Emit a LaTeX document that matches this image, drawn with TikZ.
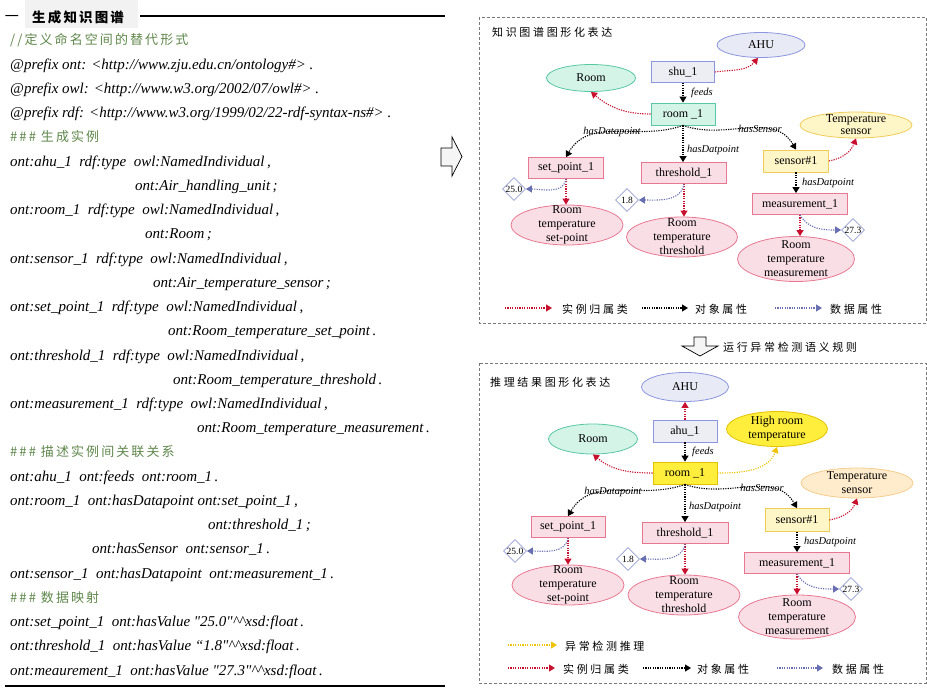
\documentclass[tikz,border=0pt]{standalone}
\usepackage{fontspec}
\setmainfont{Liberation Serif}
\newfontfamily\cjk{Noto Sans CJK SC}
\newfontfamily\cjkA[LetterSpace=16]{Noto Sans CJK SC}
\newfontfamily\cjkB[LetterSpace=24]{Noto Sans CJK SC}
\usetikzlibrary{shapes.geometric,arrows.meta}
\definecolor{cred}{RGB}{200,16,46}
\definecolor{cblue}{RGB}{105,112,178}
\definecolor{cyel}{RGB}{238,196,10}
\definecolor{cgreen}{RGB}{95,135,75}
\definecolor{pinkfill}{RGB}{250,222,230}
\definecolor{pinkdraw}{RGB}{232,120,145}
\definecolor{grnfill}{RGB}{212,244,232}
\definecolor{grndraw}{RGB}{90,200,165}
\definecolor{bluefill}{RGB}{232,234,246}
\definecolor{boxblue}{RGB}{236,238,244}
\definecolor{bluedraw}{RGB}{140,150,222}
\definecolor{ltyfill}{RGB}{255,246,200}
\definecolor{ltydraw}{RGB}{240,205,90}
\definecolor{yfill}{RGB}{255,238,60}
\definecolor{ydraw}{RGB}{225,195,0}
\definecolor{orfill}{RGB}{255,236,205}
\definecolor{ordraw}{RGB}{245,205,140}
\definecolor{dmdraw}{RGB}{150,160,210}
\definecolor{panel}{RGB}{120,120,120}
\begin{document}
\begin{tikzpicture}[x=1pt,y=-1pt,
  code/.style={anchor=base west,inner sep=0pt,font=\fontsize{15}{15}\selectfont\itshape},
  cmt/.style={anchor=base west,inner sep=0pt,text=cgreen,font=\fontsize{13}{13}\selectfont\cjkA},
  ell/.style={ellipse,draw,line width=0.8pt,inner sep=0pt},
  elltext/.style={inner sep=0pt,align=center,font=\fontsize{12}{14}\selectfont},
  box/.style={rectangle,draw,line width=0.8pt,minimum height=21pt,inner sep=0pt,font=\fontsize{12}{12}\selectfont},
  pinkbox/.style={box,fill=pinkfill,draw=pinkdraw},
  pinkell/.style={ell,fill=pinkfill,draw=pinkdraw},
  dm/.style={diamond,draw=dmdraw,fill=white,line width=0.7pt,minimum width=23pt,minimum height=23pt,inner sep=0pt,font=\fontsize{9.5}{9.5}\selectfont},
  lab/.style={inner sep=0pt,font=\fontsize{10.5}{10.5}\selectfont\itshape},
  dotline/.style={line width=1.1pt,dash pattern=on 1.2pt off 1.2pt,-{Triangle[length=6pt,width=7pt]}},
  rel/.style={dotline,draw=black},
  inst/.style={dotline,draw=cred},
  dat/.style={dotline,draw=cblue},
  infer/.style={dotline,draw=cyel},
  legtext/.style={anchor=west,inner sep=0pt,font=\fontsize{11}{11}\selectfont\cjkB},
  paneltitle/.style={anchor=west,inner sep=0pt,font=\fontsize{11}{11}\selectfont\cjkB},
  panelbox/.style={draw=panel,line width=0.6pt,dash pattern=on 3pt off 2pt}
]
\useasboundingbox (0,0) rectangle (927,690);
\fill[white] (0,0) rectangle (927,690);

% ---------- left column ----------
\fill[black!5] (25,0) rectangle (138,28);
\node[inner sep=0pt,font=\fontsize{14}{14}\selectfont\cjk] (dash) at (12,18) {一};
\node[anchor=west,inner sep=0pt,font=\fontsize{13.5}{13.5}\selectfont\cjkA\bfseries] (title) at (32,17) {生成知识图谱};
\coordinate (tl1) at (140,16);
\coordinate (tl2) at (445,16);
\draw[line width=1.2pt] (tl1) -- (tl2);

\node[cmt] (l0) at (10,45) {{\itshape //}定义命名空间的替代形式};
\node[code] (l1) at (10,69.2) {@prefix ont: <http://www.zju.edu.cn/ontology\#> .};
\node[code] (l2) at (10,93.5) {@prefix owl: <http://www.w3.org/2002/07/owl\#> .};
\node[code] (l3) at (10,117.7) {@prefix rdf: <http://www.w3.org/1999/02/22-rdf-syntax-ns\#> .};
\node[cmt] (l4) at (10,141.9) {\#\#\# 生成实例};
\node[code] (l5) at (10,166.2) {ont:ahu\_1\ \ rdf:type\ \ owl:NamedIndividual\,,};
\node[code] (l6) at (135,190.4) {ont:Air\_handling\_unit\,;};
\node[code] (l7) at (10,214.6) {ont:room\_1\ \ rdf:type\ \ owl:NamedIndividual\,,};
\node[code] (l8) at (145,238.8) {ont:Room\,;};
\node[code] (l9) at (10,263.1) {ont:sensor\_1\ \ rdf:type\ \ owl:NamedIndividual\,,};
\node[code] (l10) at (153,287.3) {ont:Air\_temperature\_sensor\,;};
\node[code] (l11) at (10,311.5) {ont:set\_point\_1\ \ rdf:type\ \ owl:NamedIndividual\,,};
\node[code] (l12) at (168,335.8) {ont:Room\_temperature\_set\_point\,.};
\node[code] (l13) at (10,360) {ont:threshold\_1\ \ rdf:type\ \ owl:NamedIndividual\,,};
\node[code] (l14) at (173,384.2) {ont:Room\_temperature\_threshold\,.};
\node[code] (l15) at (10,408.5) {ont:measurement\_1\ \ rdf:type\ \ owl:NamedIndividual\,,};
\node[code] (l16) at (197,432.7) {ont:Room\_temperature\_measurement\,.};
\node[cmt] (l17) at (10,456.9) {\#\#\# 描述实例间关联关系};
\node[code] (l18) at (10,481.2) {ont:ahu\_1\ \ ont:feeds\ \ ont:room\_1\,.};
\node[code] (l19) at (10,505.4) {ont:room\_1\ \ ont:hasDatapoint ont:set\_point\_1\,,};
\node[code] (l20) at (208,529.6) {ont:threshold\_1\,;};
\node[code] (l21) at (92,553.9) {ont:hasSensor\ \ ont:sensor\_1\,.};
\node[code] (l22) at (10,578.1) {ont:sensor\_1\ \ ont:hasDatapoint\ \ ont:measurement\_1\,.};
\node[cmt] (l23) at (10,602.3) {\#\#\# 数据映射};
\node[code] (l24) at (10,626.6) {ont:set\_point\_1\ \ ont:hasValue \textquotedbl 25.0\textquotedbl\textasciicircum\textasciicircum xsd:float\,.};
\node[code] (l25) at (10,650.8) {ont:threshold\_1\ \ ont:hasValue “1.8\textquotedbl\textasciicircum\textasciicircum xsd:float\,.};
\node[code] (l26) at (10,675) {ont:meaurement\_1\ \ ont:hasValue \textquotedbl 27.3\textquotedbl\textasciicircum\textasciicircum xsd:float\,.};
\coordinate (bl1) at (5,686);
\coordinate (bl2) at (445,686);
\draw[line width=1.5pt] (bl1) -- (bl2);

% block arrow right
\draw[line width=0.7pt,fill=black!4] (441,148) -- (452,148) -- (452,137) -- (462,156.5) -- (452,176) -- (452,166) -- (441,166) -- cycle;

% ---------- top panel ----------
\draw[panelbox] (479,17) rectangle (926,323);
\node[paneltitle] (t1) at (492,32) {知识图谱图形化表达};

\node[ell,fill=bluefill,draw=bluedraw,minimum width=88pt,minimum height=25pt] (AHU1) at (761,45) {};
\node[elltext] (AHU1t) at (AHU1) {AHU};
\node[box,fill=boxblue,draw=bluedraw,minimum width=63pt] (shu) at (683,72) {shu\_1};
\node[ell,fill=grnfill,draw=grndraw,minimum width=89pt,minimum height=27pt] (Room1) at (591,78) {};
\node[elltext] (Room1t) at (Room1) {Room};
\node[box,fill=grnfill,draw=grndraw,minimum width=64pt,minimum height=22pt] (room1) at (683,114) {room \_1};
\node[ell,fill=ltyfill,draw=ltydraw,minimum width=112pt,minimum height=26pt] (TS1) at (856,125) {};
\node[elltext,font=\fontsize{12}{12}\selectfont] (TS1t) at (TS1) {Temperature\\sensor};
\node[box,fill=ltyfill,draw=ltydraw,minimum width=65pt,minimum height=22pt] (sensor1) at (796,161) {sensor\#1};
\node[pinkbox,minimum width=75pt] (sp1) at (566,168) {set\_point\_1};
\node[pinkbox,minimum width=85pt] (th1) at (684,173) {threshold\_1};
\node[pinkbox,minimum width=95pt] (ms1) at (800,204) {measurement\_1};
\node[dm] (d1) at (514,189) {25.0};
\node[dm] (d2) at (627,200) {1.8};
\node[dm] (d3) at (853,230) {27.3};
\node[pinkell,minimum width=112pt,minimum height=40pt] (esp1) at (567,225) {};
\node[elltext] (esp1t) at (esp1) {Room\\temperature\\set-point};
\node[pinkell,minimum width=111pt,minimum height=40pt] (eth1) at (682,237) {};
\node[elltext] (eth1t) at (eth1) {Room\\temperature\\threshold};
\node[pinkell,minimum width=117pt,minimum height=45pt] (ems1) at (796,259) {};
\node[elltext] (ems1t) at (ems1) {Room\\temperature\\measurement};

\draw[inst] (shu.east) to[out=8,in=-130] ([xshift=-3pt]AHU1.south);
\draw[rel] (shu.south) -- (room1.north);
\draw[inst] (room1.west) to[out=180,in=-40] (Room1.south);
\draw[rel] (room1.south) to[out=200,in=60] (sp1.north);
\draw[rel] (room1.south) -- (room1.south |- th1.north);
\draw[rel] (room1.south) to[out=-20,in=120] (sensor1.north);
\draw[inst] (sensor1.east) to[out=10,in=-110] (TS1.south);
\draw[inst] (sp1.south) -- (sp1.south |- esp1.north);
\draw[dat] (sp1.south) to[out=-100,in=0] (d1.east);
\draw[inst] (th1.south) -- (th1.south |- eth1.north);
\draw[dat] (th1.south) to[out=-100,in=0] (d2.east);
\draw[rel] (sensor1.south) -- (sensor1.south |- ms1.north);
\draw[inst] (ms1.south) -- (ms1.south |- ems1.north);
\draw[dat] (ms1.south) to[out=-60,in=180] (d3.west);

\node[lab] (lf1) at (702,93) {feeds};
\node[lab] (lh1) at (612,132) {hasDatapoint};
\node[lab] (lt1) at (713,150) {hasDatpoint};
\node[lab] (ls1) at (760,129) {hasSensor};
\node[lab] (lm1) at (828,183) {hasDatpoint};

% legend top
\coordinate (a1s) at (505,308); \coordinate (a1e) at (552,308);
\coordinate (a2s) at (642,308); \coordinate (a2e) at (688,308);
\coordinate (a3s) at (775,308); \coordinate (a3e) at (822,308);
\draw[inst] (a1s) -- (a1e);
\node[legtext] (g1) at (562,309) {实例归属类};
\draw[rel] (a2s) -- (a2e);
\node[legtext] (g2) at (695,309) {对象属性};
\draw[dat] (a3s) -- (a3e);
\node[legtext] (g3) at (830,309) {数据属性};

% down arrow + rule text
\draw[line width=0.7pt,fill=black!4] (694,337) -- (706,337) -- (706,346) -- (718,346) -- (700,356) -- (682,346) -- (694,346) -- cycle;
\node[legtext] (rule) at (723,347) {运行异常检测语义规则};

% ---------- bottom panel ----------
\draw[panelbox] (479,363) rectangle (926,683);
\node[paneltitle] (t2) at (490,382) {推理结果图形化表达};

\node[ell,fill=bluefill,draw=bluedraw,minimum width=87pt,minimum height=29pt] (AHU2) at (685,387) {};
\node[elltext] (AHU2t) at (AHU2) {AHU};
\node[box,fill=boxblue,draw=bluedraw,minimum width=64pt,minimum height=22pt] (ahu2) at (685,431) {ahu\_1};
\node[ell,fill=yfill,draw=ydraw,minimum width=101pt,minimum height=35pt] (HRT) at (777,429) {};
\node[elltext] (HRTt) at (HRT) {High room\\temperature};
\node[ell,fill=grnfill,draw=grndraw,minimum width=89pt,minimum height=30pt] (Room2) at (593,439) {};
\node[elltext] (Room2t) at (Room2) {Room};
\node[box,fill=yfill,draw=ydraw,minimum width=64pt,minimum height=22pt] (room2) at (685,473) {room \_1};
\node[ell,fill=orfill,draw=ordraw,minimum width=112pt,minimum height=30pt] (TS2) at (857,483) {};
\node[elltext] (TS2t) at (TS2) {Temperature\\sensor};
\node[box,fill=ltyfill,draw=ltydraw,minimum width=64pt,minimum height=23pt] (sensor2) at (797,520) {sensor\#1};
\node[pinkbox,minimum width=74pt] (sp2) at (568,527) {set\_point\_1};
\node[pinkbox,minimum width=86pt] (th2) at (685,533) {threshold\_1};
\node[pinkbox,minimum width=105pt] (ms2) at (797,563) {measurement\_1};
\node[dm] (d4) at (515,551) {25.0};
\node[dm] (d5) at (628,559) {1.8};
\node[dm] (d6) at (851,589) {27.3};
\node[pinkell,minimum width=112pt,minimum height=40pt] (esp2) at (568,585) {};
\node[elltext] (esp2t) at (esp2) {Room\\temperature\\set-point};
\node[pinkell,minimum width=112pt,minimum height=40pt] (eth2) at (684,595) {};
\node[elltext] (eth2t) at (eth2) {Room\\temperature\\threshold};
\node[pinkell,minimum width=117pt,minimum height=44pt] (ems2) at (797,617) {};
\node[elltext] (ems2t) at (ems2) {Room\\temperature\\measurement};

\draw[inst] (ahu2.north) -- (AHU2.south);
\draw[rel] (ahu2.south) -- (room2.north);
\draw[inst] (room2.west) to[out=180,in=-40] (Room2.south);
\draw[infer] (room2.east) to[out=0,in=-110] (HRT.south);
\draw[rel] (room2.south) to[out=200,in=60] (sp2.north);
\draw[rel] (room2.south) -- (room2.south |- th2.north);
\draw[rel] (room2.south) to[out=-20,in=120] (sensor2.north);
\draw[inst] (sensor2.east) to[out=10,in=-110] (TS2.south);
\draw[inst] (sp2.south) -- (sp2.south |- esp2.north);
\draw[dat] (sp2.south) to[out=-100,in=0] (d4.east);
\draw[inst] (th2.south) -- (th2.south |- eth2.north);
\draw[dat] (th2.south) to[out=-100,in=0] (d5.east);
\draw[rel] (sensor2.south) -- (sensor2.south |- ms2.north);
\draw[inst] (ms2.south) -- (ms2.south |- ems2.north);
\draw[dat] (ms2.south) to[out=-60,in=180] (d6.west);

\node[lab] (lf2) at (703,452) {feeds};
\node[lab] (lh2) at (613,492) {hasDatapoint};
\node[lab] (lt2) at (715,507) {hasDatpoint};
\node[lab] (ls2) at (762,488) {hasSensor};
\node[lab] (lm2) at (830,542) {hasDatpoint};

% legend bottom
\coordinate (b0s) at (508,645); \coordinate (b0e) at (557,645);
\coordinate (b1s) at (508,668); \coordinate (b1e) at (555,668);
\coordinate (b2s) at (643,668); \coordinate (b2e) at (691,668);
\coordinate (b3s) at (777,668); \coordinate (b3e) at (823,668);
\draw[infer] (b0s) -- (b0e);
\node[legtext] (h0) at (565,646) {异常检测推理};
\draw[inst] (b1s) -- (b1e);
\node[legtext] (h1) at (563,669) {实例归属类};
\draw[rel] (b2s) -- (b2e);
\node[legtext] (h2) at (697,669) {对象属性};
\draw[dat] (b3s) -- (b3e);
\node[legtext] (h3) at (832,669) {数据属性};
\end{tikzpicture}
\end{document}
